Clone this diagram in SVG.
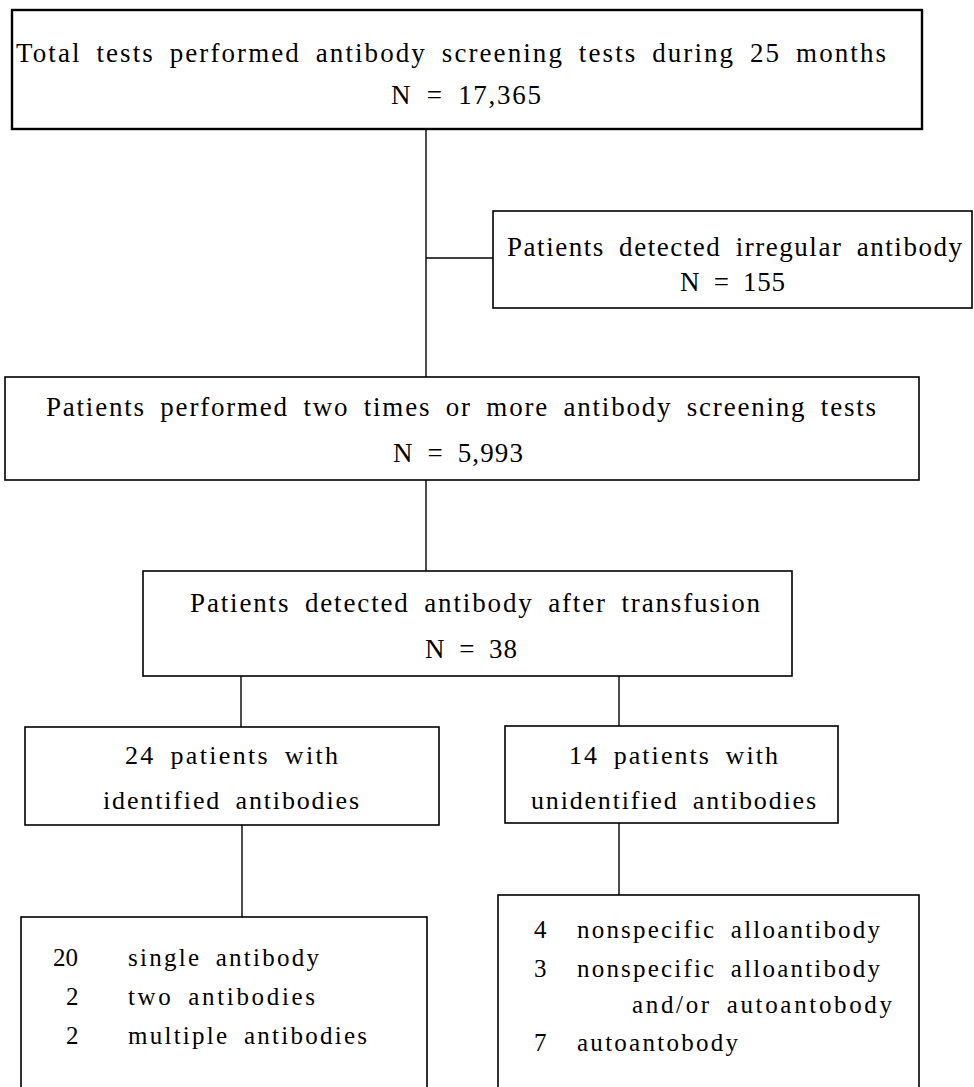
<svg xmlns="http://www.w3.org/2000/svg" width="974" height="1087" viewBox="0 0 974 1087">
<style>
  .box { fill: #fff; stroke: #000; stroke-width: 1.6; }
  .thick { stroke-width: 2.4; }
  .conn line { stroke: #000; stroke-width: 1.4; }
  text { font-family: "Liberation Serif", "DejaVu Serif", serif; fill: #000; word-spacing: 6px; }
  .t1 { font-size: 27px; }
  .t2 { font-size: 26px; }
  .t3 { font-size: 25px; }
</style>
<rect width="974" height="1087" fill="#fff"/>
<g id="connectors" class="conn">
  <line x1="426" y1="129" x2="426" y2="377"/>
  <line x1="426" y1="258" x2="493" y2="258"/>
  <line x1="426" y1="480" x2="426" y2="571"/>
  <line x1="241" y1="676" x2="241" y2="727"/>
  <line x1="619" y1="676" x2="619" y2="726"/>
  <line x1="242" y1="825" x2="242" y2="917"/>
  <line x1="619" y1="823" x2="619" y2="895"/>
</g>
<g id="node-total">
  <rect class="box thick" x="12" y="10" width="910" height="119"/>
  <text class="t1" x="16" y="62" textLength="870" lengthAdjust="spacing">Total tests performed antibody screening tests during 25 months</text>
  <text class="t1" x="391" y="104" textLength="150" lengthAdjust="spacing">N = 17,365</text>
</g>
<g id="node-irregular">
  <rect class="box" x="493" y="211" width="479" height="97"/>
  <text class="t1" x="507" y="256" textLength="455" lengthAdjust="spacing">Patients detected irregular antibody</text>
  <text class="t1" x="680" y="291" textLength="105" lengthAdjust="spacing">N = 155</text>
</g>
<g id="node-twotimes">
  <rect class="box" x="5" y="377" width="914" height="103"/>
  <text class="t1" x="46" y="416" textLength="830" lengthAdjust="spacing">Patients performed two times or more antibody screening tests</text>
  <text class="t1" x="393" y="462" textLength="130" lengthAdjust="spacing">N = 5,993</text>
</g>
<g id="node-after">
  <rect class="box" x="143" y="571" width="649" height="105"/>
  <text class="t1" x="190" y="612" textLength="570" lengthAdjust="spacing">Patients detected antibody after transfusion</text>
  <text class="t1" x="425" y="658" textLength="92" lengthAdjust="spacing">N = 38</text>
</g>
<g id="node-identified">
  <rect class="box" x="25" y="727" width="414" height="98"/>
  <text class="t2" x="125" y="764" textLength="213" lengthAdjust="spacing">24 patients with</text>
  <text class="t2" x="103" y="809" textLength="256" lengthAdjust="spacing">identified antibodies</text>
</g>
<g id="node-unidentified">
  <rect class="box" x="505" y="726" width="333" height="97"/>
  <text class="t2" x="569" y="764" textLength="209" lengthAdjust="spacing">14 patients with</text>
  <text class="t2" x="531" y="809" textLength="285" lengthAdjust="spacing">unidentified antibodies</text>
</g>
<g id="node-identified-detail">
  <rect class="box" x="21" y="917" width="406" height="200"/>
  <text class="t3" x="53" y="966" textLength="25" lengthAdjust="spacing">20</text>
  <text class="t3" x="128" y="966" textLength="191" lengthAdjust="spacing">single antibody</text>
  <text class="t3" x="66" y="1005">2</text>
  <text class="t3" x="128" y="1005" textLength="187" lengthAdjust="spacing">two antibodies</text>
  <text class="t3" x="66" y="1044">2</text>
  <text class="t3" x="128" y="1044" textLength="239" lengthAdjust="spacing">multiple antibodies</text>
</g>
<g id="node-unidentified-detail">
  <rect class="box" x="498" y="895" width="421" height="220"/>
  <text class="t3" x="534" y="938">4</text>
  <text class="t3" x="577" y="938" textLength="303" lengthAdjust="spacing">nonspecific alloantibody</text>
  <text class="t3" x="534" y="977">3</text>
  <text class="t3" x="577" y="977" textLength="303" lengthAdjust="spacing">nonspecific alloantibody</text>
  <text class="t3" x="632" y="1013" textLength="260" lengthAdjust="spacing">and/or autoantobody</text>
  <text class="t3" x="534" y="1051">7</text>
  <text class="t3" x="577" y="1051" textLength="161" lengthAdjust="spacing">autoantobody</text>
</g>
</svg>
